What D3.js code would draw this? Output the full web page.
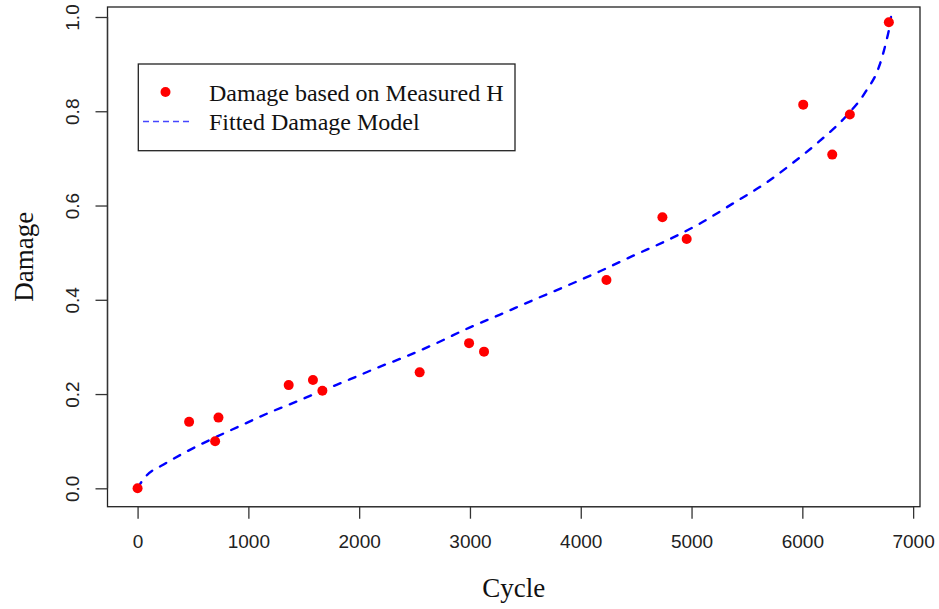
<!DOCTYPE html>
<html>
<head>
<meta charset="utf-8">
<script src="https://cdn.jsdelivr.net/npm/d3@7"></script>
<style>
  html, body { margin: 0; padding: 0; background: #fff; }
  svg { display: block; }
</style>
</head>
<body>
<svg id="chart" width="939" height="609"></svg>
<script>
// Measured damage points (cycle, damage)
const cycles = [0, 465, 700, 730, 1364, 1583, 1668, 2546, 2992, 3127, 4232, 4737, 4956, 6008, 6270, 6429, 6781];
const damage = [0, 0.141, 0.100, 0.150, 0.219, 0.230, 0.207, 0.246, 0.308, 0.290, 0.442, 0.575, 0.529, 0.814, 0.708, 0.793, 0.989];

// Fitted damage model, sampled along the curve
const modelCycles = [0, 25, 81, 231, 411, 682, 922, 1193, 1434, 1674, 1914, 2155, 2426, 2726, 2967, 3267, 3567, 3868, 4169, 4469, 4770, 5070, 5371, 5672, 5912, 6152, 6393, 6573, 6693, 6754, 6790, 6800];
const modelDamage = [0, 0.010, 0.027, 0.050, 0.074, 0.106, 0.132, 0.161, 0.184, 0.208, 0.231, 0.255, 0.280, 0.311, 0.338, 0.368, 0.399, 0.429, 0.460, 0.493, 0.525, 0.561, 0.604, 0.648, 0.690, 0.736, 0.789, 0.842, 0.895, 0.945, 0.984, 1.0];

const xTicks = [0, 1000, 2000, 3000, 4000, 5000, 6000, 7000];
const yTicks = [0.0, 0.2, 0.4, 0.6, 0.8, 1.0];

const legendLabels = ["Damage based on Measured H", "Fitted Damage Model"];

const svg = d3.select("#chart");
const box = { left: 107.5, right: 920, top: 7, bottom: 506.7 };

const x = d3.scaleLinear().domain([-271.5, 7062]).range([box.left, box.right]);
const y = d3.scaleLinear().domain([-0.039, 1.0212]).range([box.bottom, box.top]);

const sans = "'Liberation Sans', Arial, sans-serif";
const serif = "'Liberation Serif', 'Times New Roman', serif";

// plot frame
svg.append("rect")
  .attr("x", box.left).attr("y", box.top)
  .attr("width", box.right - box.left).attr("height", box.bottom - box.top)
  .attr("fill", "none").attr("stroke", "#222").attr("stroke-width", 1.3);

// x axis
const xAxis = svg.append("g")
  .attr("transform", `translate(0,${box.bottom})`)
  .call(d3.axisBottom(x).tickValues(xTicks).tickSize(12).tickPadding(16).tickFormat(d3.format("d")));
xAxis.select(".domain").attr("stroke", "#333").attr("stroke-width", 1.3)
  .attr("d", `M${x(0)},0H${x(7000)}`);
xAxis.selectAll(".tick line").attr("stroke", "#333").attr("stroke-width", 1.3);
xAxis.selectAll(".tick text").attr("font-family", sans).attr("font-size", 19).attr("fill", "#222");

// y axis
const yAxis = svg.append("g")
  .attr("transform", `translate(${box.left},0)`)
  .call(d3.axisLeft(y).tickValues(yTicks).tickSize(12).tickFormat(d3.format(".1f")));
yAxis.select(".domain").attr("stroke", "#333").attr("stroke-width", 1.3)
  .attr("d", `M0,${y(0)}V${y(1)}`);
yAxis.selectAll(".tick line").attr("stroke", "#333").attr("stroke-width", 1.3);
yAxis.selectAll(".tick text")
  .attr("font-family", sans).attr("font-size", 19).attr("fill", "#222")
  .attr("text-anchor", "middle").attr("x", null).attr("dy", null)
  .attr("transform", "translate(-35,0) rotate(-90)")
  .attr("dominant-baseline", "central");

// axis titles, centred on the plot frame
svg.append("text")
  .attr("x", (box.left + box.right) / 2).attr("y", 597)
  .attr("text-anchor", "middle")
  .attr("font-family", serif).attr("font-size", 27).attr("fill", "#111")
  .text("Cycle");
svg.append("text")
  .attr("transform", `translate(33,${(box.top + box.bottom) / 2}) rotate(-90)`)
  .attr("text-anchor", "middle")
  .attr("font-family", serif).attr("font-size", 27).attr("fill", "#111")
  .text("Damage");

// fitted model
const modelPts = modelCycles.map((c, i) => [c, modelDamage[i]]);
svg.append("path")
  .datum(modelPts)
  .attr("fill", "none")
  .attr("stroke", "#0000ff")
  .attr("stroke-width", 2.4)
  .attr("stroke-dasharray", "7,9")
  .attr("stroke-linecap", "round")
  .attr("d", d3.line().x(d => x(d[0])).y(d => y(d[1])).curve(d3.curveMonotoneX));

// measured points
svg.append("g").selectAll("circle")
  .data(cycles.map((c, i) => [c, damage[i]]))
  .join("circle")
  .attr("cx", d => x(d[0]))
  .attr("cy", d => y(d[1]))
  .attr("r", 5)
  .attr("fill", "#ff0000");

// legend
const lg = svg.append("g");
lg.append("rect")
  .attr("x", 138.3).attr("y", 64).attr("width", 376.7).attr("height", 86.7)
  .attr("fill", "#fff").attr("stroke", "#222").attr("stroke-width", 1.3);
lg.append("circle").attr("cx", 165.5).attr("cy", 92).attr("r", 5).attr("fill", "#ff0000");
lg.append("line")
  .attr("x1", 143).attr("x2", 189).attr("y1", 121.5).attr("y2", 121.5)
  .attr("stroke", "#4646ff").attr("stroke-width", 1.3)
  .attr("stroke-dasharray", "6,4");
lg.selectAll("text.lab")
  .data(legendLabels)
  .join("text")
  .attr("class", "lab")
  .attr("x", 209)
  .attr("y", (d, i) => 101 + i * 28.5)
  .attr("font-family", serif).attr("font-size", 24).attr("fill", "#111")
  .text(d => d);
</script>
</body>
</html>
